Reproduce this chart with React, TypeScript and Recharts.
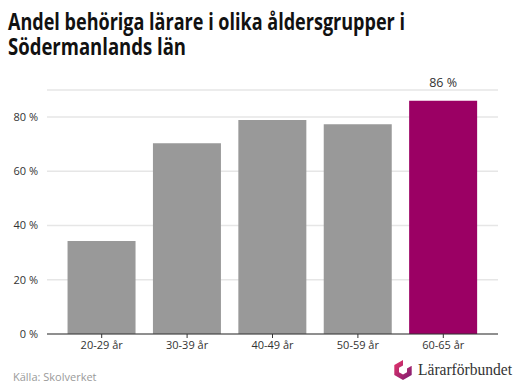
import { Bar, BarChart, CartesianGrid, Cell, LabelList, XAxis, YAxis } from "recharts";

const AGE_GROUPS = ["20-29 år", "30-39 år", "40-49 år", "50-59 år", "60-65 år"];
const SHARE = [34.3, 70.4, 78.9, 77.4, 86];
const Y_TICKS = [0, 20, 40, 60, 80];
const TITLE_LINES = ["Andel behöriga lärare i olika åldersgrupper i", "Södermanlands län"];

const HIGHLIGHT = "60-65 år";

const COLORS = {
  bar: "#999999",
  highlight: "#9b0064",
  grid: "#e6e6e6",
  axis: "#333333",
  text: "#333333",
  muted: "#9a9a9a",
};

const data = AGE_GROUPS.map((group, i) => ({ group, share: SHARE[i] }));

const FONT = "'Open Sans', sans-serif";

function TopLabel(props: any) {
  const { x, y, width, index, value } = props;
  if (AGE_GROUPS[index] !== HIGHLIGHT) return null;
  return (
    <text
      x={x + width / 2}
      y={y - 14}
      textAnchor="middle"
      fontFamily={FONT}
      fontSize={12.5}
      fill={COLORS.text}
    >
      {`${Math.round(value)} %`}
    </text>
  );
}

// title is condensed in the original, squeeze Open Sans bold to the same width
function Title() {
  return (
    <svg width={519} height={72} style={{ position: "absolute", left: 0, top: 0 }}>
      <text
        x={8}
        y={30}
        fontFamily={FONT}
        fontWeight={700}
        fontSize={22.5}
        fill="#111"
        textLength={397}
        lengthAdjust="spacingAndGlyphs"
      >
        {TITLE_LINES[0]}
      </text>
      <text
        x={8}
        y={55}
        fontFamily={FONT}
        fontWeight={700}
        fontSize={22.5}
        fill="#111"
        textLength={178}
        lengthAdjust="spacingAndGlyphs"
      >
        {TITLE_LINES[1]}
      </text>
    </svg>
  );
}

function Logo() {
  return (
    <svg width={130} height={30} style={{ position: "absolute", left: 389, top: 355 }}>
      <defs>
        <linearGradient id="lf" x1="0" y1="0" x2="1" y2="1">
          <stop offset="0%" stopColor="#e8356a" />
          <stop offset="100%" stopColor="#7a1a72" />
        </linearGradient>
      </defs>
      <g transform="translate(3,4)">
        <path
          d="M11 1 L19.7 6 L19.7 16 L11 21 L2.3 16 L2.3 6 Z M11 6.5 L7 8.8 L7 13.2 L11 15.5 L15 13.2 L15 9.5 L19.7 6.8 L19.7 6 L11 1 Z"
          fill="url(#lf)"
          fillRule="evenodd"
        />
      </g>
      <text
        x={29}
        y={20}
        fontFamily="'Liberation Serif', serif"
        fontSize={16}
        fill="#333"
        textLength={94}
        lengthAdjust="spacingAndGlyphs"
      >
        Lärarförbundet
      </text>
    </svg>
  );
}

export default function App() {
  return (
    <div
      style={{
        position: "absolute",
        left: 0,
        top: 0,
        width: 519,
        height: 387,
        background: "#fff",
        overflow: "hidden",
      }}
    >
      <BarChart
        width={519}
        height={387}
        data={data}
        margin={{ top: 90, right: 21, left: 0, bottom: 23 }}
        barCategoryGap="10%"
        style={{ position: "absolute", left: 0, top: 0 }}
      >
        <CartesianGrid horizontal vertical={false} stroke={COLORS.grid} strokeWidth={1.5} />
        <XAxis
          dataKey="group"
          padding={{ left: 12, right: 12 }}
          stroke={COLORS.axis}
          tickSize={4}
          tickMargin={3}
          tick={{ fontSize: 11, fill: COLORS.text, fontFamily: FONT }}
          height={30}
        />
        <YAxis
          width={47}
          domain={[0, 90]}
          ticks={Y_TICKS}
          axisLine={false}
          tickLine={false}
          tickSize={0}
          tickMargin={9}
          tickFormatter={(v) => `${v} %`}
          tick={{ fontSize: 11, fill: COLORS.text, fontFamily: FONT }}
        />
        <Bar dataKey="share" isAnimationActive={false}>
          {data.map((d) => (
            <Cell key={d.group} fill={d.group === HIGHLIGHT ? COLORS.highlight : COLORS.bar} />
          ))}
          <LabelList dataKey="share" content={<TopLabel />} />
        </Bar>
      </BarChart>
      <Title />
      <div
        style={{
          position: "absolute",
          left: 13,
          top: 369,
          fontFamily: FONT,
          fontSize: 11,
          color: COLORS.muted,
        }}
      >
        Källa: Skolverket
      </div>
      <Logo />
    </div>
  );
}
